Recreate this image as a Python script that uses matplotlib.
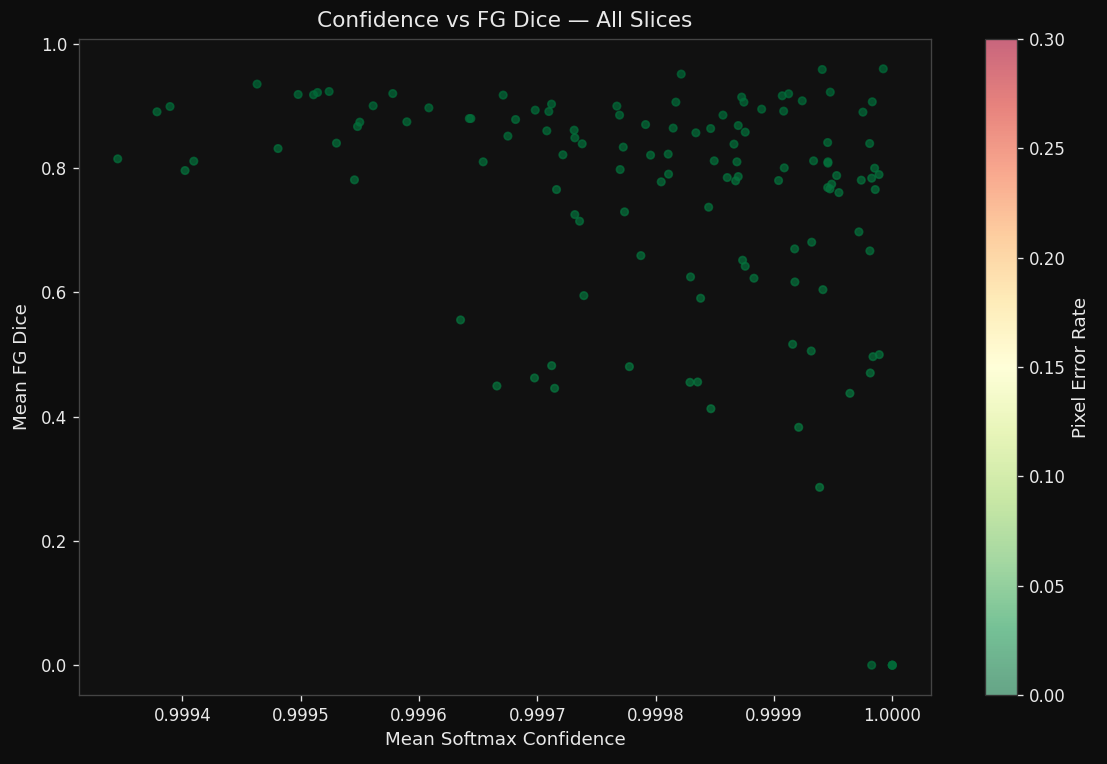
import numpy as np
import matplotlib
matplotlib.use("Agg")
import matplotlib.pyplot as plt

# mean softmax confidence per slice
confidence = [
    0.9994631, 0.9994978, 0.9995108, 0.9995142, 0.9995240, 0.9995778, 0.9993785, 0.9993895,
    0.9995612, 0.9996083, 0.9996425, 0.9996438, 0.9995499, 0.9995480, 0.9995897, 0.9995302,
    0.9994808, 0.9993453, 0.9994096, 0.9994022, 0.9996542, 0.9995454, 0.9996351, 0.9998216,
    0.9999408, 0.9999924, 0.9996711, 0.9997120, 0.9996982, 0.9997097, 0.9996816, 0.9996751,
    0.9997080, 0.9997311, 0.9997317, 0.9997379, 0.9997216, 0.9997162, 0.9997317, 0.9997357,
    0.9997393, 0.9997672, 0.9997695, 0.9997915, 0.9997726, 0.9997700, 0.9997737, 0.9997875,
    0.9997957, 0.9998106, 0.9998109, 0.9998047, 0.9998148, 0.9998171, 0.9998340, 0.9998465,
    0.9998569, 0.9998495, 0.9998448, 0.9998295, 0.9998380, 0.9998727, 0.9998746, 0.9998896,
    0.9998698, 0.9998757, 0.9998662, 0.9998687, 0.9998605, 0.9998698, 0.9998676, 0.9998735,
    0.9998757, 0.9998831, 0.9999070, 0.9999124, 0.9999239, 0.9999082, 0.9999476, 0.9999831,
    0.9999752, 0.9999454, 0.9999809, 0.9999335, 0.9999456, 0.9999456, 0.9999087, 0.9999039,
    0.9999530, 0.9999454, 0.9999488, 0.9999473, 0.9999549, 0.9999738, 0.9999826, 0.9999851,
    0.9999888, 0.9999856, 0.9999718, 0.9999811, 0.9999319, 0.9999175, 0.9999177, 0.9999414,
    0.9999158, 0.9999315, 0.9999837, 0.9999890, 0.9997121, 0.9996976, 0.9996658, 0.9997146,
    0.9997778, 0.9998290, 0.9998355, 0.9998467, 0.9999814, 0.9999642, 0.9999209, 0.9999386,
    0.9999826, 1.0000000, 1.0000000, 1.0000000,
]

# mean foreground dice per slice
fg_dice = [
    0.9351, 0.9184, 0.9179, 0.9216, 0.9232, 0.9199, 0.8905, 0.8990,
    0.9002, 0.8969, 0.8797, 0.8797, 0.8739, 0.8668, 0.8744, 0.8401,
    0.8314, 0.8148, 0.8111, 0.7960, 0.8100, 0.7810, 0.5556, 0.9512,
    0.9586, 0.9597, 0.9174, 0.9029, 0.8932, 0.8910, 0.8781, 0.8514,
    0.8599, 0.8610, 0.8486, 0.8390, 0.8213, 0.7654, 0.7251, 0.7145,
    0.5947, 0.8997, 0.8852, 0.8700, 0.8337, 0.7976, 0.7295, 0.6591,
    0.8208, 0.8224, 0.7902, 0.7778, 0.8643, 0.9061, 0.8567, 0.8636,
    0.8852, 0.8116, 0.7370, 0.6248, 0.5905, 0.9142, 0.9061, 0.8948,
    0.8684, 0.8578, 0.8385, 0.8100, 0.7847, 0.7863, 0.7794, 0.6517,
    0.6420, 0.6227, 0.9163, 0.9195, 0.9082, 0.8916, 0.9222, 0.9066,
    0.8900, 0.8411, 0.8395, 0.8116, 0.8100, 0.8079, 0.8003, 0.7799,
    0.7879, 0.7686, 0.7741, 0.7665, 0.7605, 0.7805, 0.7837, 0.7998,
    0.7895, 0.7654, 0.6973, 0.6667, 0.6807, 0.6699, 0.6167, 0.6043,
    0.5164, 0.5056, 0.4965, 0.4997, 0.4820, 0.4622, 0.4493, 0.4456,
    0.4804, 0.4552, 0.4557, 0.4127, 0.4702, 0.4375, 0.3828, 0.2862,
    0.0, 0.0, 0.0, 0.0,
]

# pixel error rate per slice (all very small)
pixel_error = [
    0.002, 0.003, 0.003, 0.002, 0.002, 0.003, 0.004, 0.003,
    0.003, 0.003, 0.004, 0.004, 0.004, 0.004, 0.004, 0.005,
    0.005, 0.005, 0.005, 0.006, 0.005, 0.006, 0.008, 0.002,
    0.002, 0.002, 0.003, 0.003, 0.003, 0.003, 0.004, 0.004,
    0.004, 0.004, 0.004, 0.005, 0.005, 0.006, 0.006, 0.007,
    0.008, 0.003, 0.003, 0.004, 0.005, 0.005, 0.006, 0.007,
    0.005, 0.005, 0.005, 0.006, 0.004, 0.003, 0.004, 0.004,
    0.003, 0.005, 0.006, 0.007, 0.008, 0.003, 0.003, 0.003,
    0.004, 0.004, 0.005, 0.005, 0.006, 0.006, 0.006, 0.007,
    0.007, 0.007, 0.003, 0.003, 0.003, 0.003, 0.002, 0.003,
    0.003, 0.004, 0.004, 0.005, 0.005, 0.005, 0.005, 0.006,
    0.006, 0.006, 0.006, 0.006, 0.006, 0.006, 0.006, 0.005,
    0.006, 0.006, 0.007, 0.007, 0.007, 0.007, 0.007, 0.008,
    0.008, 0.008, 0.008, 0.008, 0.009, 0.009, 0.009, 0.009,
    0.009, 0.009, 0.009, 0.010, 0.009, 0.010, 0.010, 0.011,
    0.004, 0.002, 0.002, 0.002,
]

fig_bg = "#0d0d0d"
ax_bg = "#111111"
txt = "#e8e8e8"

fig = plt.figure(figsize=(1107 / 120, 764 / 120), dpi=120, facecolor=fig_bg)
ax = fig.add_axes([79 / 1107, 69 / 764, 852 / 1107, 656 / 764])
ax.set_facecolor(ax_bg)

sc = ax.scatter(confidence, fg_dice, c=pixel_error, cmap="RdYlGn_r",
                vmin=0, vmax=0.3, s=20, alpha=0.7)

ax.set_title("Confidence vs FG Dice \u2014 All Slices", color=txt, fontsize=13, pad=7)
ax.set_xlabel("Mean Softmax Confidence", color=txt, fontsize=11)
ax.set_ylabel("Mean FG Dice", color=txt, fontsize=11, labelpad=6)
ax.tick_params(colors=txt, labelsize=10)
for sp in ax.spines.values():
    sp.set_color("#444444")

# colorbar keeps its white face, so the alpha washes the colours out
cax = fig.add_axes([985 / 1107, 69 / 764, 32 / 1107, 656 / 764])
cbar = fig.colorbar(sc, cax=cax)
cbar.set_ticks([0.0, 0.05, 0.10, 0.15, 0.20, 0.25, 0.30])
cbar.ax.set_yticklabels(["0.00", "0.05", "0.10", "0.15", "0.20", "0.25", "0.30"])
cbar.ax.tick_params(colors=txt, labelsize=10)
cbar.set_label("Pixel Error Rate", color=txt, fontsize=11)
cbar.outline.set_edgecolor("#333333")
cbar.solids.set_alpha(0.6)

fig.savefig("out.png", dpi=120, facecolor=fig_bg)
